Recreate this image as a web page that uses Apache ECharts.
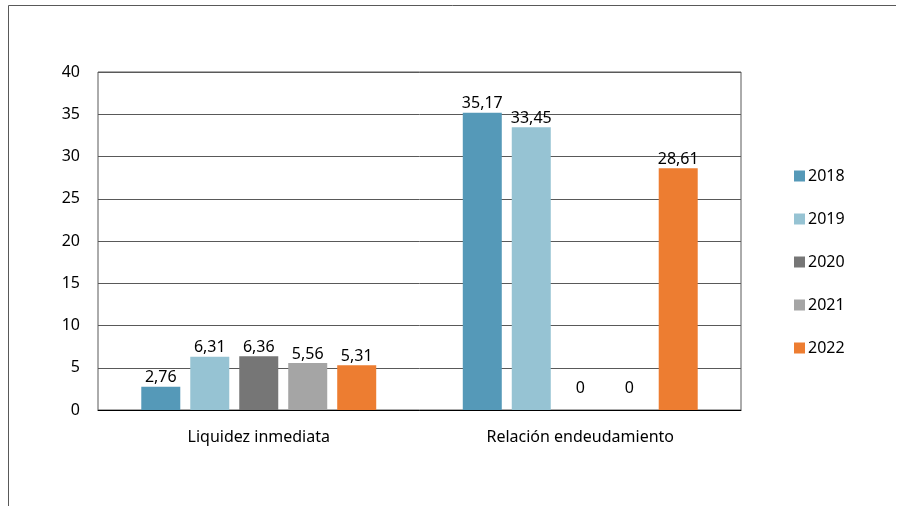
<!DOCTYPE html>
<html><head><meta charset="utf-8">
<script src="https://cdn.jsdelivr.net/npm/echarts@6/dist/echarts.min.js"></script>
<style>html,body{margin:0;padding:0;background:#fff}#c{width:897px;height:506px}</style>
</head><body><div id="c"></div>
<script>
const categories = ['Liquidez inmediata', 'Relación endeudamiento'];
const years = ['2018', '2019', '2020', '2021', '2022'];
const v2018 = [2.76, 35.17];
const v2019 = [6.31, 33.45];
const v2020 = [6.36, 0];
const v2021 = [5.56, 0];
const v2022 = [5.31, 28.61];
const yTicks = [0, 5, 10, 15, 20, 25, 30, 35, 40];
const colors = ['#5599B8', '#96C3D3', '#767676', '#A5A5A5', '#ED7D31'];
const seriesValues = [v2018, v2019, v2020, v2021, v2022];
const font = 'Noto Sans';

const chart = echarts.init(document.getElementById('c'), null, {renderer: 'canvas'});
chart.setOption({
  animation: false,
  textStyle: {fontFamily: font},
  graphic: [
    {type: 'line', shape: {x1: 8.5, y1: 5.5, x2: 896, y2: 5.5}, style: {stroke: '#595959', lineWidth: 1}},
    {type: 'line', shape: {x1: 8.5, y1: 5.5, x2: 8.5, y2: 506}, style: {stroke: '#595959', lineWidth: 1}}
  ],
  grid: {left: 98, right: 156, top: 72, bottom: 96, show: true, borderColor: '#595959', borderWidth: 1},
  legend: {
    orient: 'vertical', left: 789, top: 163, itemWidth: 11, itemHeight: 11, itemGap: 27,
    icon: 'rect',
    textStyle: {fontFamily: font, fontSize: 16, color: '#000', padding: [0, 0, 0, -2]},
    data: years
  },
  xAxis: {
    type: 'category', data: categories,
    axisLine: {lineStyle: {color: '#000', width: 1}},
    axisTick: {show: false},
    axisLabel: {fontFamily: font, fontSize: 16, color: '#000', margin: 19}
  },
  yAxis: {
    type: 'value', min: yTicks[0], max: yTicks[yTicks.length - 1], interval: 5,
    axisLine: {show: false}, axisTick: {show: false},
    splitLine: {lineStyle: {color: '#595959', width: 1}},
    axisLabel: {fontFamily: font, fontSize: 16, color: '#000', margin: 18}
  },
  series: years.map((y, i) => ({
    name: y, type: 'bar', barWidth: 39, barGap: '25.6%',
    itemStyle: {color: colors[i]},
    data: seriesValues[i].map(v => v === 0 ? {value: v, label: {distance: 14}} : v),
    label: {
      show: true, position: 'top', distance: 1,
      fontFamily: font, fontSize: 16, color: '#000',
      formatter: p => String(p.value).replace('.', ',')
    }
  }))
});
</script></body></html>
